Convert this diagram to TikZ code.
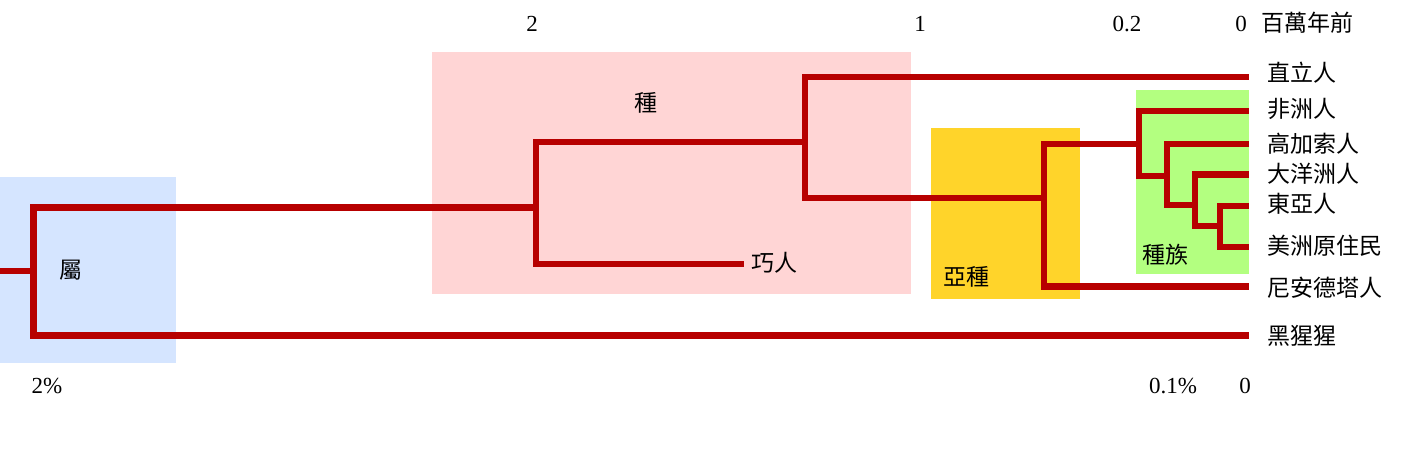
\documentclass[tikz,border=0pt]{standalone}
\usepackage{fontspec}
\setmainfont{Liberation Serif}
\newfontfamily\cjk{Noto Sans CJK TC}
\definecolor{treered}{RGB}{183,0,0}
\definecolor{genusbg}{RGB}{213,229,255}
\definecolor{speciesbg}{RGB}{255,213,213}
\definecolor{subbg}{RGB}{255,212,42}
\definecolor{racebg}{RGB}{179,255,128}
\begin{document}
\begin{tikzpicture}[x=1pt,y=-1pt,
  branch/.style={draw=treered, line width=6.5pt, line join=miter},
  thickbranch/.style={draw=treered, line width=7pt, line join=miter},
  lab/.style={font=\cjk\fontsize{23}{27}\selectfont, inner sep=0pt},
  leaflab/.style={lab, anchor=west},
  num/.style={font=\fontsize{23}{27}\selectfont, inner sep=0pt, anchor=base}]
\useasboundingbox (0,0) rectangle (1423,449);
% background boxes
\fill[genusbg] (0,177) rectangle (176,363);
\fill[speciesbg] (432,52) rectangle (911,294);
\fill[subbg] (931,128) rectangle (1080,299);
\fill[racebg] (1136,90) rectangle (1249,274);
% internal node coordinates
\coordinate (root) at (0,271);
\coordinate (G) at (33,271);
\coordinate (S) at (536,207);
\coordinate (H) at (805,142);
\coordinate (Sub) at (1044,198);
\coordinate (R1) at (1139,144);
\coordinate (R2) at (1167,176);
\coordinate (R3) at (1195,205);
\coordinate (R4) at (1220,226);
% leaf tips
\coordinate (tchimp) at (1249,335.5);
\coordinate (thab) at (744,264);
\coordinate (terec) at (1249,77);
\coordinate (tnean) at (1249,286.5);
\coordinate (tafr) at (1249,111);
\coordinate (tcau) at (1249,144);
\coordinate (toce) at (1249,174.5);
\coordinate (teas) at (1249,206);
\coordinate (tame) at (1249,247);
% tree
\draw[treered, line width=5.5pt] (root) -- (G);
\draw[thickbranch] (G) |- (S);
\draw[thickbranch] (G) |- (tchimp);
\draw[branch] (S) |- (H);
\draw[branch] (S) |- (thab);
\draw[branch] (H) |- (terec);
\draw[branch] (H) |- (Sub);
\draw[branch] (Sub) |- (R1);
\draw[branch] (Sub) |- (tnean);
\draw[branch] (R1) |- (tafr);
\draw[branch] (R1) |- (R2);
\draw[branch] (R2) |- (tcau);
\draw[branch] (R2) |- (R3);
\draw[branch] (R3) |- (toce);
\draw[branch] (R3) |- (R4);
\draw[branch] (R4) |- (teas);
\draw[branch] (R4) |- (tame);
% leaf labels
\node[leaflab] (lerec) at (1267,73) {直立人};
\node[leaflab] (lafr) at (1267,109) {非洲人};
\node[leaflab] (lcau) at (1267,144) {高加索人};
\node[leaflab] (loce) at (1267,174) {大洋洲人};
\node[leaflab] (leas) at (1267,204) {東亞人};
\node[leaflab] (lame) at (1267,246) {美洲原住民};
\node[leaflab] (lnean) at (1267,288) {尼安德塔人};
\node[leaflab] (lchimp) at (1267,336) {黑猩猩};
\node[leaflab] (lhab) at (751,263) {巧人};
% group labels
\node[lab] (lgenus) at (71,270) {屬};
\node[lab] (lspecies) at (646,103) {種};
\node[lab] (lsub) at (966,277) {亞種};
\node[lab] (lrace) at (1165,255) {種族};
% axes
\node[num] (t2) at (532,32) {2};
\node[num] (t1) at (920,32) {1};
\node[num] (t02) at (1127,32) {0.2};
\node[num] (t0) at (1241,32) {0};
\node[lab, anchor=west] (myr) at (1261,23) {百萬年前};
\node[num] (b2) at (47,393) {2\%};
\node[num] (b01) at (1173,393) {0.1\%};
\node[num] (b0) at (1245,393) {0};
\end{tikzpicture}
\end{document}
